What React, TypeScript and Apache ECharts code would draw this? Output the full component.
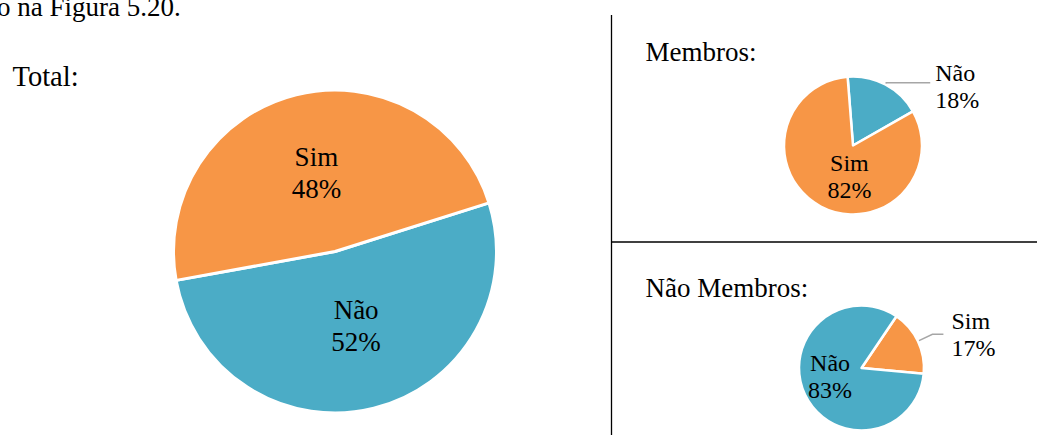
import React, { useEffect, useRef } from 'react';
import * as echarts from 'echarts';

// ---- data ----
const totalNames = ['Não', 'Sim'];
const totalValues = [52, 48];
const membrosNames = ['Não', 'Sim'];
const membrosValues = [18, 82];
const naoMembrosNames = ['Sim', 'Não'];
const naoMembrosValues = [17, 83];
const panelTitles = ['Total:', 'Membros:', 'Não Membros:'];
const captionText = 'o na Figura 5.20.';

const COLORS: Record<string, string> = { Sim: '#F79646', 'Não': '#4BACC6' };
const FONT = '"Liberation Serif", "Times New Roman", Times, serif';

function buildData(names: string[], values: number[], outsideIndex: number, labelDist: number, len1: number, len2: number) {
  return names.map((n, i) => {
    const item: any = { name: n, value: values[i], itemStyle: { color: COLORS[n] } };
    if (i === outsideIndex) {
      item.label = { position: 'outside', distanceToLabelLine: labelDist, align: 'left' };
      item.labelLine = { show: true, length: len1, length2: len2 };
    }
    return item;
  });
}

export default function App() {
  const ref = useRef<HTMLDivElement>(null);
  useEffect(() => {
    if (!ref.current) return;
    const chart = echarts.init(ref.current, undefined, { renderer: 'svg' });
    const bigLabel = {
      show: true,
      position: 'inside',
      formatter: '{b}\n{d}%',
      color: '#000',
      fontFamily: FONT,
      fontSize: 27,
      lineHeight: 32,
      textBorderWidth: 0,
    };
    const smallLabel = { ...bigLabel, fontSize: 24, lineHeight: 27 };
    const lineStyle = { color: '#A6A6A6', width: 1.5 };
    const titleStyle = { fill: '#000', fontFamily: FONT, fontSize: 27, verticalAlign: 'middle', align: 'left' };

    const totalOffsets = [{ dx: 1, dy: -6.5 }, { dx: 1.5, dy: 3 }];
    const membrosOffsets = [{ dx: 0, dy: 4 }, { dx: 14, dy: -2.5 }];
    const naoMembrosOffsets = [{ dx: 0, dy: 0 }, { dx: -0.5, dy: -5.7 }];

    chart.setOption({
      animation: false,
      backgroundColor: '#ffffff',
      graphic: [
        { type: 'text', x: -3, y: 7, style: { ...titleStyle, text: captionText } },
        { type: 'text', x: 12.5, y: 76, style: { ...titleStyle, fontSize: 28.5, text: panelTitles[0] } },
        { type: 'text', x: 645.5, y: 52, style: { ...titleStyle, text: panelTitles[1] } },
        { type: 'text', x: 645.5, y: 287.5, style: { ...titleStyle, text: panelTitles[2] } },
        { type: 'line', shape: { x1: 611.5, y1: 15, x2: 611.5, y2: 435 }, style: { stroke: '#000', lineWidth: 1.3 } },
        { type: 'line', shape: { x1: 611, y1: 242, x2: 1037, y2: 242 }, style: { stroke: '#000', lineWidth: 1.3 } },
      ],
      series: [
        {
          type: 'pie',
          center: [335, 251.5],
          radius: 161.5,
          startAngle: 17.5,
          clockwise: true,
          avoidLabelOverlap: false,
          silent: true,
          emphasis: { disabled: true },
          itemStyle: { borderColor: '#fff', borderWidth: 3 },
          label: bigLabel,
          labelLine: { show: false },
          labelLayout: (p: any) => totalOffsets[p.dataIndex],
          data: buildData(totalNames, totalValues, -1, 5, 0, 0),
        },
        {
          type: 'pie',
          center: [853, 145.5],
          radius: 69,
          startAngle: 94.5,
          clockwise: true,
          avoidLabelOverlap: false,
          silent: true,
          emphasis: { disabled: true },
          itemStyle: { borderColor: '#fff', borderWidth: 2.5 },
          label: smallLabel,
          labelLine: { show: false, lineStyle },
          labelLayout: (p: any) => membrosOffsets[p.dataIndex],
          data: buildData(membrosNames, membrosValues, 0, 5, 2, 44),
        },
        {
          type: 'pie',
          center: [861.5, 368],
          radius: 62.5,
          startAngle: 56,
          clockwise: true,
          avoidLabelOverlap: false,
          silent: true,
          emphasis: { disabled: true },
          itemStyle: { borderColor: '#fff', borderWidth: 2.5 },
          label: smallLabel,
          labelLine: { show: false, lineStyle },
          labelLayout: (p: any) => naoMembrosOffsets[p.dataIndex],
          data: buildData(naoMembrosNames, naoMembrosValues, 0, 8, 16, 11),
        },
      ],
    });
    return () => chart.dispose();
  }, []);
  return (
    <div
      ref={ref}
      style={{ position: 'absolute', left: 0, top: 0, width: 1037, height: 435, background: '#fff' }}
    />
  );
}
